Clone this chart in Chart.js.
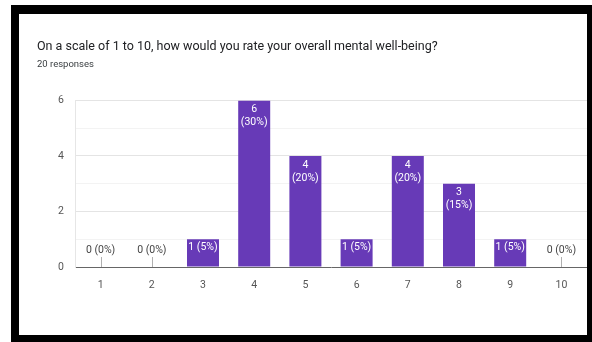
<!DOCTYPE html>
<html>
<head>
<meta charset="utf-8">
<script src="https://cdn.jsdelivr.net/npm/chart.js@4.4.1/dist/chart.umd.min.js"></script>
<style>
  html, body { margin: 0; padding: 0; background: #ffffff; width: 592px; height: 342px; overflow: hidden; }
  #frame { position: absolute; left: 11px; top: 5px; width: 581px; height: 337px; background: #000; }
  #card { position: absolute; left: 19px; top: 14px; width: 568px; height: 321px; background: #fff; }
  #c { position: absolute; left: 0; top: 0; }
</style>
</head>
<body>
<div id="frame"></div>
<div id="card"><canvas id="c" width="568" height="321"></canvas></div>
<script>
const titleText = "On a scale of 1 to 10, how would you rate your overall mental well-being?";
const subtitleText = "20 responses";
const categories = ["1", "2", "3", "4", "5", "6", "7", "8", "9", "10"];
const counts = [0, 0, 1, 6, 4, 1, 4, 3, 1, 0];
const percentLabels = ["0%", "0%", "5%", "30%", "20%", "5%", "20%", "15%", "5%", "0%"];
const yTickValues = [0, 2, 4, 6];

const FONT = "Roboto, 'Liberation Sans', Arial, sans-serif";

const barLabels = {
  id: 'barLabels',
  afterDatasetsDraw(chart) {
    const ctx = chart.ctx;
    const meta = chart.getDatasetMeta(0);
    const base = chart.scales.y.getPixelForValue(0);
    ctx.save();
    ctx.font = "10.5px " + FONT;
    ctx.textAlign = 'center';
    ctx.textBaseline = 'middle';
    meta.data.forEach((bar, i) => {
      const v = counts[i];
      const p = percentLabels[i];
      const x = bar.x;
      if (v === 0) {
        ctx.strokeStyle = '#b0b0b0';
        ctx.lineWidth = 1;
        ctx.beginPath();
        ctx.moveTo(Math.round(x) + 0.5, base);
        ctx.lineTo(Math.round(x) + 0.5, base - 10);
        ctx.stroke();
        ctx.fillStyle = '#444444';
        ctx.fillText(v + " (" + p + ")", x, base - 17);
      } else if (v === 1) {
        ctx.fillStyle = '#ffffff';
        ctx.fillText(v + " (" + p + ")", x, bar.y + 8);
      } else {
        ctx.fillStyle = '#ffffff';
        ctx.fillText(String(v), x, bar.y + 9);
        ctx.fillText("(" + p + ")", x, bar.y + 22);
      }
    });
    ctx.restore();
  }
};

new Chart(document.getElementById('c'), {
  type: 'bar',
  data: {
    labels: categories,
    datasets: [{
      data: counts,
      backgroundColor: '#673ab7',
      borderWidth: 0,
      barPercentage: 0.625,
      categoryPercentage: 1.0
    }]
  },
  options: {
    responsive: false,
    animation: false,
    layout: { padding: { left: 18, right: 0, top: 0, bottom: 0 } },
    plugins: {
      legend: { display: false },
      tooltip: { enabled: false },
      title: {
        display: true,
        text: titleText,
        align: 'start',
        color: '#202124',
        font: { family: FONT, size: 12.5, weight: 'normal' },
        padding: { top: 25, bottom: 5 }
      },
      subtitle: {
        display: true,
        text: subtitleText,
        align: 'start',
        color: '#3c4043',
        font: { family: FONT, size: 9.5, weight: 'normal' },
        padding: { top: 0, bottom: 30 }
      }
    },
    scales: {
      x: {
        grid: { display: false },
        border: { display: true, color: '#666666', width: 1 },
        ticks: { color: '#555555', font: { family: FONT, size: 10.5 }, padding: 4 },
        afterFit(scale) { scale.height = 68; }
      },
      y: {
        min: 0,
        max: 6,
        afterBuildTicks(scale) {
          scale.ticks = [0, 1, 2, 3, 4, 5, 6].map(v => ({ value: v }));
        },
        grid: {
          drawTicks: false,
          color(c) {
            const v = c.tick ? c.tick.value : 0;
            if (v === 0) return 'rgba(0,0,0,0)';
            return v % 2 === 0 ? '#e4e4e4' : '#f3f3f3';
          }
        },
        border: { display: true, color: '#e6e6e6', width: 1 },
        ticks: {
          color: '#555555',
          font: { family: FONT, size: 10.5 },
          padding: 11,
          callback(value) { return yTickValues.includes(value) ? String(value) : ''; }
        },
        afterFit(scale) { scale.width = 38; }
      }
    }
  },
  plugins: [barLabels]
});
</script>
</body>
</html>
